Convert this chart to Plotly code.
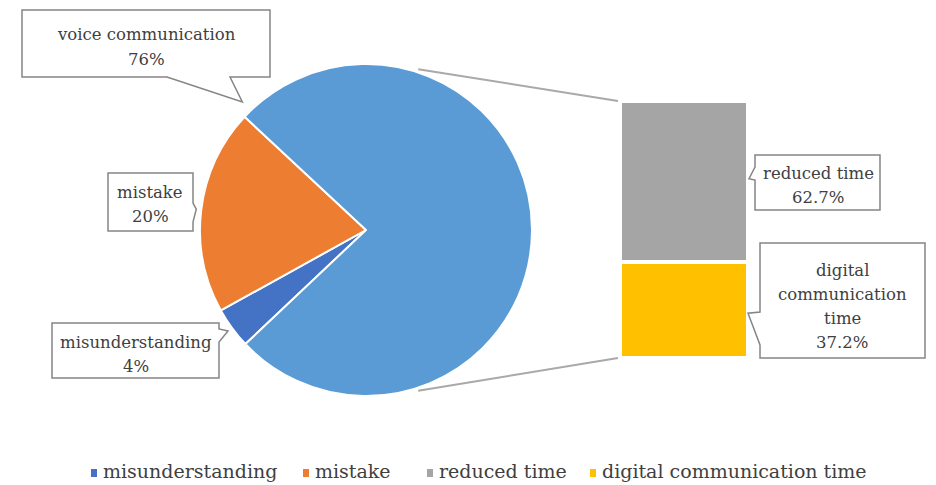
import math
import plotly.graph_objects as go

# ---- data -------------------------------------------------------------
pie_labels = ["misunderstanding", "mistake", "voice communication"]
pie_values = [4, 20, 76]
pie_colors = ["#4472C4", "#ED7D31", "#5B9BD5"]

bar_labels = ["digital communication time", "reduced time"]   # bottom -> top
bar_values = [37.2, 62.7]
bar_colors = ["#FFC000", "#A5A5A5"]

legend_labels = ["misunderstanding", "mistake", "reduced time", "digital communication time"]
legend_colors = ["#4472C4", "#ED7D31", "#A5A5A5", "#FFC000"]

# ---- layout constants (pixels) ---------------------------------------
W, H = 936, 485
PIE_CX, PIE_CY, PIE_R = 366, 230, 166
PIE_ROTATION = 226.6            # compass angle where the first slice starts
BAR_LINE = 4                    # white outline that separates the stacked pieces
BAR_X0, BAR_X1 = 622 - BAR_LINE / 2, 746 + BAR_LINE / 2
BAR_TOP, BAR_BOT = 103 - BAR_LINE / 2, 356 + BAR_LINE / 2

SERIF = "DejaVu Serif"
TEXT_COLOR = "#404040"
BOX_LINE = "#858585"
LABEL_SIZE = 16.5
LEGEND_SIZE = 19
LINE_GAP = 24


def px(x):
    return x / W


def py(y):
    return 1 - y / H


fig = go.Figure()

# ---- pie ---------------------------------------------------------------
fig.add_trace(go.Pie(
    labels=pie_labels, values=pie_values, sort=False, direction="clockwise",
    rotation=PIE_ROTATION, textinfo="none", showlegend=False,
    marker=dict(colors=pie_colors, line=dict(color="white", width=2)),
    domain=dict(x=[px(PIE_CX - PIE_R), px(PIE_CX + PIE_R)],
                y=[py(PIE_CY + PIE_R), py(PIE_CY - PIE_R)]),
))

# ---- stacked bar -------------------------------------------------------
bar_total = sum(bar_values)
for lab, val, col in zip(bar_labels, bar_values, bar_colors):
    fig.add_trace(go.Bar(
        x=[0], y=[val], width=1, name=lab, showlegend=False,
        marker=dict(color=col, line=dict(color="white", width=BAR_LINE)),
    ))

fig.update_layout(
    barmode="stack",
    xaxis=dict(domain=[px(BAR_X0), px(BAR_X1)], range=[-0.5, 0.5], visible=False,
               fixedrange=True),
    yaxis=dict(domain=[py(BAR_BOT), py(BAR_TOP)], range=[0, bar_total], visible=False,
               fixedrange=True),
)


def bar_y(v):
    """pixel row of bar value v"""
    return BAR_BOT - (BAR_BOT - BAR_TOP) * v / bar_total


def pie_point(compass_deg, r):
    a = math.radians(compass_deg)
    return PIE_CX + r * math.sin(a), PIE_CY - r * math.cos(a)


# slice angle spans (compass degrees, clockwise)
pie_total = sum(pie_values)
spans = []
start = PIE_ROTATION
for v in pie_values:
    end = start + 360 * v / pie_total
    spans.append((start, end))
    start = end

shapes = []
annotations = []

# ---- connector lines from the pie to the bar ------------------------
vis_left = BAR_X0 + BAR_LINE / 2
for ang, yv in ((18, bar_total), (180 - 18, 0)):
    x0, y0 = pie_point(ang, PIE_R + 3)
    shapes.append(dict(type="line", xref="paper", yref="paper",
                       x0=px(x0), y0=py(y0), x1=px(vis_left - 4), y1=py(bar_y(yv)),
                       line=dict(color="#A9A9A9", width=2)))


# ---- callouts --------------------------------------------------------------
def callout(box, side, base, tip):
    x0, y0, x1, y1 = box
    b0, b1 = base
    tx, ty = tip
    pts = [(x0, y0), (x1, y0)]
    if side == "right":
        pts += [(x1, b0), (tx, ty), (x1, b1)]
    pts += [(x1, y1)]
    if side == "bottom":
        pts += [(b1, y1), (tx, ty), (b0, y1)]
    pts += [(x0, y1)]
    if side == "left":
        pts += [(x0, b1), (tx, ty), (x0, b0)]
    path = "M " + " L ".join(f"{px(x):.5f},{py(y):.5f}" for x, y in pts) + " Z"
    shapes.append(dict(type="path", xref="paper", yref="paper", path=path,
                       fillcolor="white", line=dict(color=BOX_LINE, width=1.5),
                       layer="above"))


def label_lines(lines, cx, first_y):
    for i, t in enumerate(lines):
        annotations.append(dict(
            x=px(cx), y=py(first_y + i * LINE_GAP), xref="paper", yref="paper",
            text=t, showarrow=False, xanchor="center", yanchor="middle",
            font=dict(family=SERIF, size=LABEL_SIZE, color=TEXT_COLOR)))


def pct(v, total, digits=0):
    return f"{100 * v / total:.{digits}f}%"


# voice communication: tip just past the start of its slice
vs, ve = spans[2]
tip = pie_point(vs + 3, PIE_R + 12)
callout((22, 10, 270, 77), "bottom", (167, 230), tip)
label_lines([pie_labels[2], pct(pie_values[2], pie_total)], 146, 35)

# mistake: tip at slice middle
ms, me = spans[1]
tip = pie_point((ms + me) / 2, PIE_R + 5)
callout((108, 173, 193, 231), "right", (203, 222), tip)
label_lines([pie_labels[1], pct(pie_values[1], pie_total)], 150, 193)

# misunderstanding
us, ue = spans[0]
tip = pie_point((us + ue) / 2, PIE_R + 5)
callout((52, 323, 219, 378), "right", (329, 342), tip)
label_lines([pie_labels[0], pct(pie_values[0], pie_total)], 135.5, 342)

vis_right = BAR_X1 - BAR_LINE / 2
# reduced time (upper piece)
mid = bar_y(bar_values[0] + bar_values[1] / 2)
callout((755, 155, 880, 210), "left", (167, 180), (vis_right + 3, mid - 3))
label_lines([bar_labels[1], f"{bar_values[1]}%"], 818, 173)

# digital communication time (lower piece)
mid = bar_y(bar_values[0] / 2)
callout((760, 243, 925, 358), "left", (312, 345), (vis_right + 2, mid + 3))
label_lines(["digital", "communication", "time", f"{bar_values[0]}%"], 842, 270)

# ---- legend -----------------------------------------------------------------
legend_text_x = [101, 313, 437, 600]
LEG_Y = 471
for lab, col, tx in zip(legend_labels, legend_colors, legend_text_x):
    shapes.append(dict(type="rect", xref="paper", yref="paper",
                       x0=px(tx - 10), x1=px(tx - 4), y0=py(LEG_Y + 6), y1=py(LEG_Y - 2),
                       fillcolor=col, line=dict(width=0)))
    annotations.append(dict(
        x=px(tx), y=py(LEG_Y), xref="paper", yref="paper", text=lab,
        showarrow=False, xanchor="left", yanchor="middle",
        font=dict(family=SERIF, size=LEGEND_SIZE, color=TEXT_COLOR)))

fig.update_layout(
    width=W, height=H, margin=dict(l=0, r=0, t=0, b=0),
    paper_bgcolor="white", plot_bgcolor="white",
    font=dict(family=SERIF),
    shapes=shapes, annotations=annotations, showlegend=False,
)

fig.write_html("out.html")
